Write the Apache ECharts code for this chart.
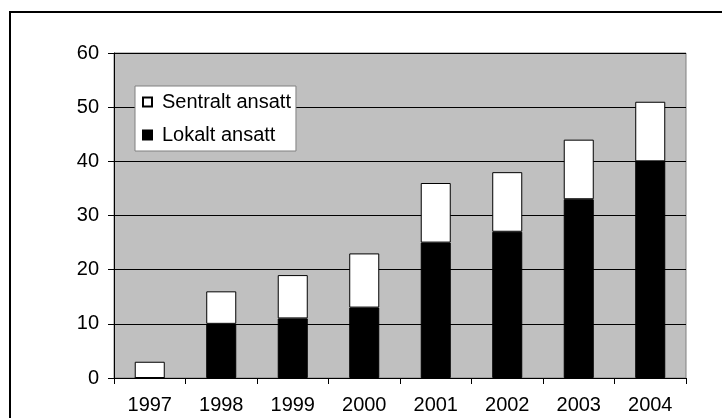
<!DOCTYPE html>
<html>
<head>
<meta charset="utf-8">
<script src="https://cdn.jsdelivr.net/npm/echarts@6/dist/echarts.min.js"></script>
<style>
  html, body { margin: 0; padding: 0; background: #fff; }
  #main { width: 722px; height: 418px; }
</style>
</head>
<body>
<div id="main"></div>
<script>
  // data
  var years = ['1997', '1998', '1999', '2000', '2001', '2002', '2003', '2004'];
  var lokalt = [0, 10, 11, 13, 25, 27, 33, 40];
  var sentralt = [3, 6, 8, 10, 11, 11, 11, 11];

  var myChart = echarts.init(document.getElementById('main'));
  var font = 'Liberation Sans, Arial, sans-serif';

  var option = {
    animation: false,
    backgroundColor: '#fff',
    graphic: [{
      type: 'rect',
      shape: { x: 10, y: 12, width: 800, height: 600 },
      style: { fill: 'none', stroke: '#000', lineWidth: 2 },
      silent: true
    }],
    grid: {
      left: 114, right: 36, top: 53, bottom: 40,
      show: true,
      backgroundColor: '#c0c0c0',
      borderColor: '#808080',
      borderWidth: 1
    },
    legend: {
      orient: 'vertical',
      left: 135, top: 86,
      data: ['Sentralt ansatt', 'Lokalt ansatt'],
      icon: 'rect',
      itemWidth: 9, itemHeight: 9,
      itemGap: 13,
      padding: [6, 5, 6, 7],
      backgroundColor: '#fff',
      borderColor: '#808080',
      borderWidth: 1,
      textStyle: { fontSize: 20, color: '#000', fontFamily: font, padding: [0, 0, 0, 5] }
    },
    xAxis: {
      type: 'category',
      data: years,
      axisLine: { lineStyle: { color: '#000', width: 1 } },
      axisTick: { show: true, length: 6, lineStyle: { color: '#000' } },
      axisLabel: { fontSize: 20, color: '#000', fontFamily: font, margin: 17 }
    },
    yAxis: {
      type: 'value',
      min: 0, max: 60, interval: 10,
      axisLine: { show: true, lineStyle: { color: '#000', width: 1 } },
      axisTick: { show: true, length: 6, lineStyle: { color: '#000' } },
      axisLabel: { fontSize: 20, color: '#000', fontFamily: font, margin: 15 },
      splitLine: { show: true, lineStyle: { color: '#000', width: 1 } }
    },
    series: [
      {
        name: 'Lokalt ansatt',
        type: 'bar',
        stack: 'ansatt',
        barWidth: '42%',
        data: lokalt,
        itemStyle: { color: '#000', borderColor: '#000', borderWidth: 1 }
      },
      {
        name: 'Sentralt ansatt',
        type: 'bar',
        stack: 'ansatt',
        data: sentralt,
        itemStyle: { color: '#fff', borderColor: '#000', borderWidth: 1 }
      }
    ]
  };

  myChart.setOption(option);
</script>
</body>
</html>
